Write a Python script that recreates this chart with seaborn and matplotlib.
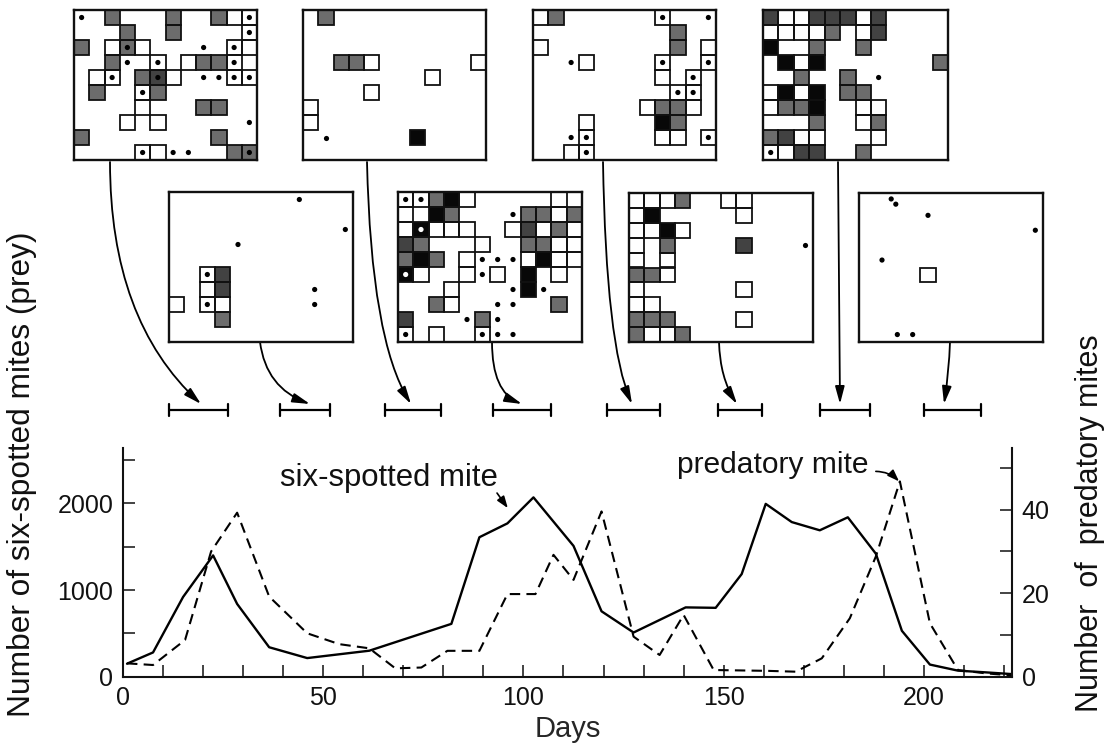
import numpy as np
import matplotlib
matplotlib.use("Agg")
import matplotlib.pyplot as plt
import matplotlib.transforms as mtransforms
from matplotlib.colors import ListedColormap
from matplotlib.path import Path
from matplotlib.patches import FancyArrowPatch, Rectangle
import seaborn as sns

# ---------------- data ----------------
prey_days = [1, 7.5, 15, 22.5, 28.5, 36.5, 46, 61.5, 82, 89, 96, 102.5, 112.5,
             119.5, 127.5, 140.5, 148, 154.5, 160.5, 167, 174, 181, 188, 194.5,
             201.5, 208.5, 215.5, 222]
prey_counts = [150, 280, 920, 1400, 840, 340, 215, 300, 610, 1610, 1770, 2070,
               1510, 755, 510, 800, 795, 1185, 1995, 1785, 1690, 1840, 1420, 530,
               140, 70, 50, 30]

pred_days = [1, 7.5, 15.5, 22, 28.5, 36.5, 46, 54, 61.5, 68, 74.5, 81, 89, 96,
             103, 107.5, 112.5, 119.5, 127.5, 134, 140, 147.5, 161, 168, 174.5,
             181.5, 188, 194, 201.5, 208.5, 215.5, 222]
pred_counts = [3.2, 2.8, 8.8, 30, 39.3, 19.2, 10.4, 7.8, 6.8, 2.0, 2.2, 6.2, 6.2,
               19.8, 19.8, 29.2, 23.2, 39.6, 9.6, 5.2, 14.8, 1.6, 1.4, 1.2, 4.4,
               14, 28.8, 46.8, 12.8, 1.6, 0.8, 0.3]

day_ticks = [0, 50, 100, 150, 200]
prey_ticks = [0, 1000, 2000]
pred_ticks = [0, 20, 40]

# sampling windows (days) shown as brackets above the plot
window_start = [11.5, 39.25, 65.5, 92.5, 120.75, 148.5, 174, 200]
window_end = [26.25, 51.75, 79.5, 107, 134, 159.5, 186.5, 214.25]

# universe snapshots: 10 rows x 12 positions
# . empty  w light  g grey  d dark  b black ; uppercase = with predator ; * predator only
grid_a = ["*.g...g..gwW",
          "...g..g....W",
          "g.wGw...*.Ww",
          "..g*.W.wggW.",
          ".wW.gDw.**WW",
          ".g..Wg......",
          "....w...gg..",
          "...w.w.....*",
          "g........g..",
          "....Ww**..gG"]
grid_b = ["........*...",
          "............",
          "...........*",
          "....*.......",
          "............",
          "..Wd........",
          "..wd.....*..",
          "w.Ww.....*..",
          "...g........",
          "............"]
grid_c = [".g..........",
          "............",
          "............",
          "..ggw......w",
          "........w...",
          "....w.......",
          "w...........",
          "w...........",
          ".*.....b....",
          "............"]
grid_d = ["WWgbw.....w.",
          "w.bg...*ggwg",
          "wBwww..wdwgw",
          "dg...w..ggww",
          "gbg.w***wbww",
          "Bw..w*w.b.w.",
          "...w...*b*..",
          "..gw..**..g.",
          "d...*g*.....",
          "W.w..W**...."]
grid_e = ["wg......W..*",
          ".........g..",
          "w........g.w",
          "..*w....W..W",
          "........w.W.",
          ".........WW.",
          ".......wggw.",
          "...w....bg..",
          "..*W....ww.W",
          "..wW........"]
grid_f = ["wwwg..ww....",
          "wb.....w....",
          "wwbw........",
          "w.g....d...*",
          "w.w.........",
          "ggw.........",
          "w......w....",
          "ww..........",
          "ggg....w....",
          "gwwg........"]
grid_g = ["dwwdddwd....",
          "wwwwg.wd....",
          "b..g..g.....",
          ".bwb.......g",
          "..g..g.*....",
          "wbwb.gg.....",
          "wggb..ww....",
          "...g..wg....",
          "gdww...w....",
          "Wwdd..g....."]
grid_h = ["..:.........",
          "....*.......",
          "...........*",
          "............",
          ".*..........",
          "....w.......",
          "............",
          "............",
          "............",
          "..**........"]

# ---------------- style ----------------
sns.set_theme(style="ticks")
plt.rcParams['font.family'] = ['Liberation Sans', 'DejaVu Sans']
plt.rcParams['text.color'] = '#111111'

W, H = 1114, 745
fig = plt.figure(figsize=(W / 100, H / 100), dpi=100)
fig.patch.set_facecolor('white')

# overlay in pixel coordinates for connectors
ov = fig.add_axes([0, 0, 1, 1], zorder=0)
ov.set_xlim(0, W)
ov.set_ylim(H, 0)
ov.axis('off')
ov.patch.set_alpha(0)

x0, x1, ytop, ybot = 123, 1012, 448, 676.7
ax = fig.add_axes([x0 / W, 1 - ybot / H, (x1 - x0) / W, (ybot - ytop) / H], zorder=1)
ax2 = ax.twinx()

sns.lineplot(x=prey_days, y=prey_counts, ax=ax, color='black', linewidth=1.7,
             estimator=None)
sns.lineplot(x=pred_days, y=pred_counts, ax=ax2, color='black', linewidth=1.5,
             linestyle=(0, (5, 3)), estimator=None)

ax.set_xlim(0, 222)
ax.set_ylim(0, 2640)
ax2.set_ylim(0, 54.8)

ax.set_xticks(day_ticks)
ax.set_xticks(np.arange(10, 221, 10), minor=True)
ax.set_yticks(prey_ticks)
ax.set_yticks([500, 1500, 2500], minor=True)
ax2.set_yticks(pred_ticks)
ax2.set_yticks([10, 30, 50], minor=True)

for a in (ax, ax2):
    a.tick_params(which='both', direction='in', length=8.5, width=1.1,
                  labelsize=18, colors='#111111')
    a.tick_params(which='major', pad=7)
    for s in a.spines.values():
        s.set_linewidth(1.5)
        s.set_color('#111111')
    a.set_xlabel('')
    a.set_ylabel('')
ax.spines['top'].set_visible(False)
ax.spines['right'].set_visible(False)
ax2.spines['top'].set_visible(False)
ax2.spines['left'].set_visible(False)
ax2.spines['bottom'].set_visible(False)
ax.patch.set_alpha(0)

ax.set_xlabel('Days', fontsize=21, labelpad=3)
fig.text(22 / W, 1 - 474 / H, 'Number of six-spotted mites (prey)', rotation=90,
         ha='center', va='center', fontsize=22.8)
fig.text(1090 / W, 1 - 523 / H, 'Number  of  predatory mites', rotation=90,
         ha='center', va='center', fontsize=22)

# annotations
ax.text(66.4, 2207, 'six-spotted mite', fontsize=22.4, ha='center', va='baseline')
ax.annotate('', xy=(96.1, 1946), xytext=(93.4, 2120),
            arrowprops=dict(arrowstyle='-|>,head_length=0.5,head_width=0.18',
                            lw=1.2, color='black', shrinkA=0, shrinkB=0,
                            mutation_scale=14))
ax2.text(162.25, 48.8, 'predatory mite', fontsize=21.6, ha='center', va='baseline')
ax2.annotate('', xy=(193.8, 46.8), xytext=(188, 49.2),
             arrowprops=dict(arrowstyle='-|>,head_length=0.5,head_width=0.18',
                             lw=1.2, color='black', shrinkA=0, shrinkB=0,
                             mutation_scale=14, connectionstyle='arc3,rad=-0.2'))

# sampling window brackets (x in days, y in pixel overlay coords)
btr = mtransforms.blended_transform_factory(ax.transData, ov.transData)
for a_, b_ in zip(window_start, window_end):
    ov.plot([a_, b_], [410, 410], transform=btr, color='black', lw=1.6,
            clip_on=False, solid_capstyle='butt')
    ov.plot([a_, a_], [404, 416], transform=btr, color='black', lw=1.6, clip_on=False)
    ov.plot([b_, b_], [404, 416], transform=btr, color='black', lw=1.6, clip_on=False)

# connectors from snapshots to windows
connectors = [((110, 162), (110, 320), (201, 404)),
              ((260, 342), (266, 388), (310, 404)),
              ((367, 162), (371, 340), (411, 404)),
              ((492, 342), (492, 392), (522, 404)),
              ((603, 162), (606, 345), (632, 404)),
              ((719, 342), (720, 378), (737, 404)),
              ((838, 162), (839, 280), (840, 404)),
              ((950, 342), (949, 372), (944, 404))]
for p0, c, p1 in connectors:
    path = Path([p0, c, p1], [Path.MOVETO, Path.CURVE3, Path.CURVE3])
    arr = FancyArrowPatch(path=path,
                          arrowstyle='-|>,head_length=0.75,head_width=0.2',
                          mutation_scale=14, lw=1.3, color='black')
    ov.add_patch(arr)

# snapshot panels
levels = {'w': 0, 'g': 1, 'd': 2, 'b': 3}
cmap = ListedColormap(['#ffffff', '#6c6c6c', '#424242', '#080808'])


def parse(rows):
    vals = np.full((len(rows), len(rows[0])), np.nan)
    dots = []
    for r, line in enumerate(rows):
        for c, ch in enumerate(line):
            low = ch.lower()
            if low in levels:
                vals[r, c] = levels[low]
            if ch == '*' or (low in levels and ch.isupper()):
                dots.append((c + 0.5, r + 0.5, 'white' if low == 'b' else 'black'))
            if ch == ':':
                dots.append((c + 0.1, r + 0.4, 'black'))
                dots.append((c + 0.4, r + 0.75, 'black'))
    return vals, dots


panels = [(grid_a, 74, 10, 257, 160), (grid_c, 303, 10, 486, 160),
          (grid_e, 533, 10, 716, 160), (grid_g, 763, 10, 948, 160),
          (grid_b, 169, 192, 353, 342), (grid_d, 398, 192, 582, 342),
          (grid_f, 629, 193, 813, 342), (grid_h, 859, 193, 1043, 342)]

for grid, px0, py0, px1, py1 in panels:
    iax = fig.add_axes([px0 / W, 1 - py1 / H, (px1 - px0) / W, (py1 - py0) / H],
                       zorder=3)
    vals, dots = parse(grid)
    sns.heatmap(vals, mask=np.isnan(vals), cmap=cmap, vmin=-0.5, vmax=3.5,
                cbar=False, linewidths=0, ax=iax,
                xticklabels=False, yticklabels=False)
    rr, cc = np.where(~np.isnan(vals))
    for r, c in zip(rr, cc):
        iax.add_patch(Rectangle((c, r), 1, 1, fill=False, edgecolor='#111111',
                                lw=1.3, zorder=2))
    iax.set_xlim(0, 12)
    iax.set_ylim(10, 0)
    for s in iax.spines.values():
        s.set_visible(True)
        s.set_linewidth(1.7)
        s.set_color('#111111')
    if dots:
        xs, ys, cs = zip(*dots)
        iax.scatter(xs, ys, s=14, c=list(cs), linewidths=0, zorder=4)
    iax.tick_params(left=False, bottom=False)

fig.savefig('out.png', dpi=100)
